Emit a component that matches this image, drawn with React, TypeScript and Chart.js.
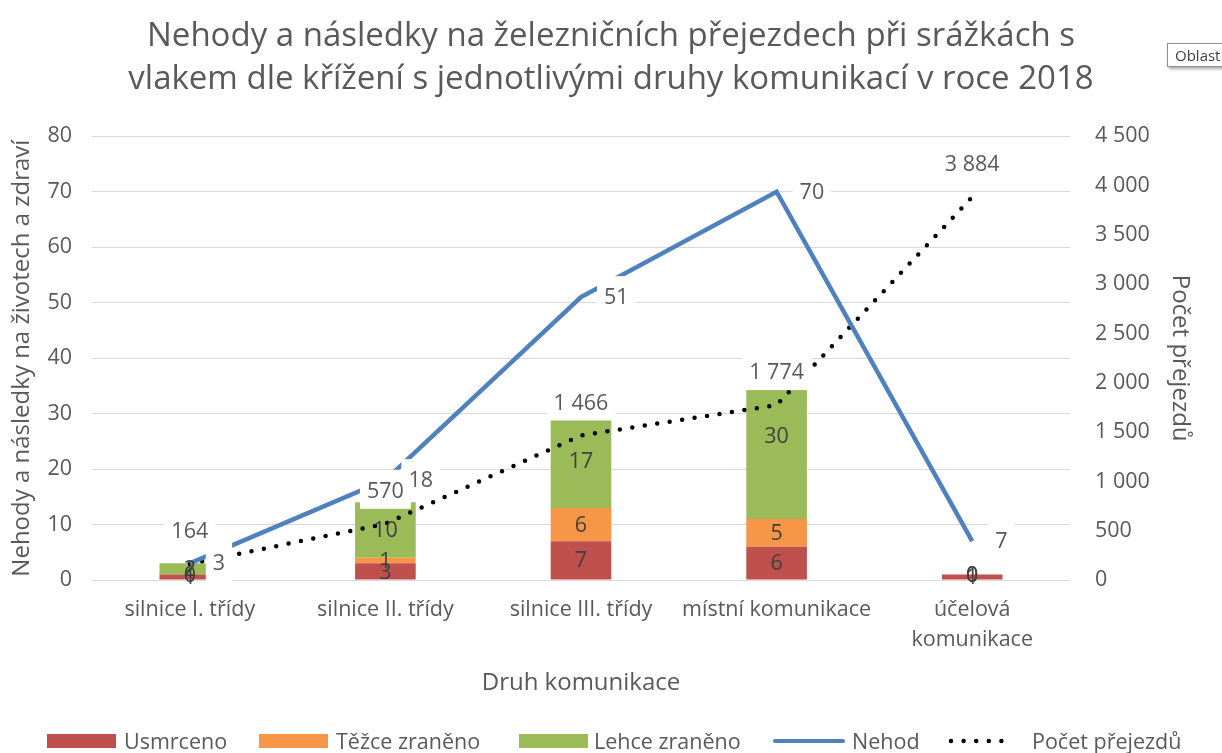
import React, { useEffect, useRef } from 'react';
import { Chart, registerables } from 'chart.js';

Chart.register(...registerables);

const categories: (string | string[])[] = [
  'silnice I. třídy',
  'silnice II. třídy',
  'silnice III. třídy',
  'místní komunikace',
  ['účelová', 'komunikace'],
];
const usmrceno = [1, 3, 7, 6, 1];
const tezceZraneno = [0, 1, 6, 5, 0];
const lehceZraneno = [2, 10, 17, 30, 0];
const nehod = [3, 18, 51, 70, 7];
const pocetPrejezdu = [164, 570, 1466, 1774, 3884];

const titleLines = [
  'Nehody a následky na železničních přejezdech při srážkách s',
  'vlakem dle křížení s jednotlivými druhy komunikací v roce 2018',
];

const FONT = '"Open Sans", "Noto Sans", sans-serif';
const TEXT = '#595959';

const fmt = (n: number) => String(n).replace(/\B(?=(\d{3})+(?!\d))/g, ' ');

const labelPlugin = {
  id: 'valueLabels',
  afterDatasetsDraw(chart: any) {
    const ctx = chart.ctx as CanvasRenderingContext2D;
    ctx.save();
    ctx.font = `21.5px ${FONT}`;
    ctx.textBaseline = 'middle';
    chart.data.datasets.forEach((ds: any, i: number) => {
      if (ds.type !== 'bar') return;
      const meta = chart.getDatasetMeta(i);
      meta.data.forEach((el: any, j: number) => {
        ctx.fillStyle = '#404040';
        ctx.textAlign = 'center';
        ctx.fillText(fmt(ds.data[j]), el.x, (el.y + el.base) / 2 + 1);
      });
    });
    chart.data.datasets.forEach((ds: any, i: number) => {
      if (ds.type !== 'line') return;
      const meta = chart.getDatasetMeta(i);
      meta.data.forEach((el: any, j: number) => {
        const txt = fmt(ds.data[j]);
        const w = ctx.measureText(txt).width;
        let cx: number, cy: number;
        if (ds.labelPos === 'right') {
          cx = el.x + 23 + w / 2;
          cy = el.y;
        } else {
          cx = el.x;
          cy = el.y - 33;
        }
        ctx.fillStyle = '#ffffff';
        ctx.fillRect(cx - w / 2 - 7, cy - 21, w + 14, 39);
        ctx.fillStyle = TEXT;
        ctx.textAlign = 'center';
        ctx.fillText(txt, cx, cy + 1);
      });
    });
    ctx.restore();
  },
};

function LegendItem(props: { symLeft: number; textLeft: number; kind: string; color: string; label: string }) {
  const { symLeft, textLeft, kind, color, label } = props;
  let sym: React.ReactNode;
  if (kind === 'box') {
    sym = <div style={{ position: 'absolute', left: symLeft, top: 734, width: 69, height: 14, background: color }} />;
  } else if (kind === 'line') {
    sym = <div style={{ position: 'absolute', left: symLeft, top: 739, width: 72, height: 4, background: color, borderRadius: 2 }} />;
  } else {
    sym = (
      <svg style={{ position: 'absolute', left: symLeft, top: 737 }} width={70} height={8}>
        <line x1={3} y1={4} x2={66} y2={4} stroke="#000" strokeWidth={4.5} strokeLinecap="round" strokeDasharray="0 12.6" />
      </svg>
    );
  }
  return (
    <>
      {sym}
      <span
        style={{
          position: 'absolute',
          left: textLeft,
          top: 726,
          height: 30,
          lineHeight: '30px',
          font: `21.5px ${FONT}`,
          color: TEXT,
          whiteSpace: 'nowrap',
        }}
      >
        {label}
      </span>
    </>
  );
}

export default function App() {
  const ref = useRef<HTMLCanvasElement>(null);
  useEffect(() => {
    if (!ref.current) return;
    const chart = new Chart(ref.current, {
      type: 'bar',
      data: {
        labels: categories,
        datasets: [
          {
            type: 'line',
            label: 'Nehod',
            data: nehod,
            yAxisID: 'y',
            borderColor: '#4F81BD',
            backgroundColor: '#4F81BD',
            borderWidth: 4.5,
            pointRadius: 0,
            tension: 0,
            stack: 'nehod',
            order: 0,
            labelPos: 'right',
          } as any,
          {
            type: 'line',
            label: 'Počet přejezdů',
            data: pocetPrejezdu,
            yAxisID: 'y1',
            borderColor: '#000000',
            borderWidth: 4.5,
            borderDash: [0, 12.6],
            borderCapStyle: 'round',
            pointRadius: 0,
            tension: 0,
            order: 1,
            labelPos: 'top',
          } as any,
          {
            type: 'bar',
            label: 'Usmrceno',
            data: usmrceno,
            yAxisID: 'y',
            backgroundColor: '#C0504D',
            stack: 's',
            order: 2,
            barPercentage: 0.62,
            categoryPercentage: 0.5,
          },
          {
            type: 'bar',
            label: 'Těžce zraněno',
            data: tezceZraneno,
            yAxisID: 'y',
            backgroundColor: '#F79646',
            stack: 's',
            order: 3,
            barPercentage: 0.62,
            categoryPercentage: 0.5,
          },
          {
            type: 'bar',
            label: 'Lehce zraněno',
            data: lehceZraneno,
            yAxisID: 'y',
            backgroundColor: '#9BBB59',
            stack: 's',
            order: 4,
            barPercentage: 0.62,
            categoryPercentage: 0.5,
          },
        ],
      },
      options: {
        animation: false,
        responsive: false,
        maintainAspectRatio: false,
        layout: { padding: { top: 0, bottom: 40, left: 0, right: 0 } },
        plugins: {
          legend: { display: false },
          tooltip: { enabled: false },
          title: {
            display: true,
            text: titleLines,
            color: TEXT,
            font: { family: FONT, size: 33, weight: 'normal', lineHeight: 1.3 },
            padding: { top: 15.5, bottom: 35 },
          },
        },
        scales: {
          x: {
            stacked: true,
            grid: { display: false, drawTicks: false },
            border: { display: false },
            ticks: { color: TEXT, font: { family: FONT, size: 21.5, lineHeight: 1.4 }, padding: 15, maxRotation: 0 },
            title: {
              display: true,
              text: 'Druh komunikace',
              color: TEXT,
              font: { family: FONT, size: 24 },
              padding: { top: 0, bottom: 15.6 },
            },
            afterFit(s: any) {
              s.height = 133;
            },
          },
          y: {
            stacked: true,
            position: 'left',
            min: 0,
            max: 80,
            ticks: { stepSize: 10, color: TEXT, font: { family: FONT, size: 21.5 }, padding: 20 },
            grid: { color: '#D9D9D9', drawTicks: false, lineWidth: 1 },
            border: { display: false },
            title: {
              display: true,
              text: 'Nehody a následky na životech a zdraví',
              color: TEXT,
              font: { family: FONT, size: 24 },
              padding: { top: 7.6, bottom: 0 },
            },
            afterFit(s: any) {
              s.width = 92;
            },
          },
          y1: {
            position: 'right',
            min: 0,
            max: 4500,
            ticks: {
              stepSize: 500,
              color: TEXT,
              font: { family: FONT, size: 21.5 },
              padding: 25,
              callback: (v: any) => fmt(Number(v)),
            },
            grid: { display: false, drawTicks: false },
            border: { display: false },
            title: {
              display: true,
              text: 'Počet přejezdů',
              color: TEXT,
              font: { family: FONT, size: 24 },
              padding: { top: 27.6, bottom: 0 },
            },
            afterFit(s: any) {
              s.width = 152;
            },
          },
        },
      } as any,
      plugins: [labelPlugin],
    });
    return () => chart.destroy();
  }, []);

  return (
    <div style={{ position: 'fixed', left: 0, top: 0, width: 1222, height: 753, overflow: 'hidden', background: '#fff' }}>
      <canvas ref={ref} width={1222} height={753} style={{ position: 'absolute', left: 0, top: 0 }} />
      <div
        style={{
          position: 'absolute',
          left: 1167,
          top: 43,
          height: 22,
          padding: '0 7px',
          border: '1px solid #8c8c8c',
          background: '#fff',
          boxShadow: '2px 2px 3px rgba(0,0,0,0.35)',
          font: `15px ${FONT}`,
          lineHeight: '22px',
          color: '#404040',
          whiteSpace: 'nowrap',
        }}
      >
        Oblast grafu
      </div>
      <LegendItem symLeft={47} textLeft={124} kind="box" color="#C0504D" label="Usmrceno" />
      <LegendItem symLeft={259} textLeft={336} kind="box" color="#F79646" label="Těžce zraněno" />
      <LegendItem symLeft={519} textLeft={594} kind="box" color="#9BBB59" label="Lehce zraněno" />
      <LegendItem symLeft={773} textLeft={852} kind="line" color="#4F81BD" label="Nehod" />
      <LegendItem symLeft={948} textLeft={1032} kind="dots" color="#000" label="Počet přejezdů" />
    </div>
  );
}
